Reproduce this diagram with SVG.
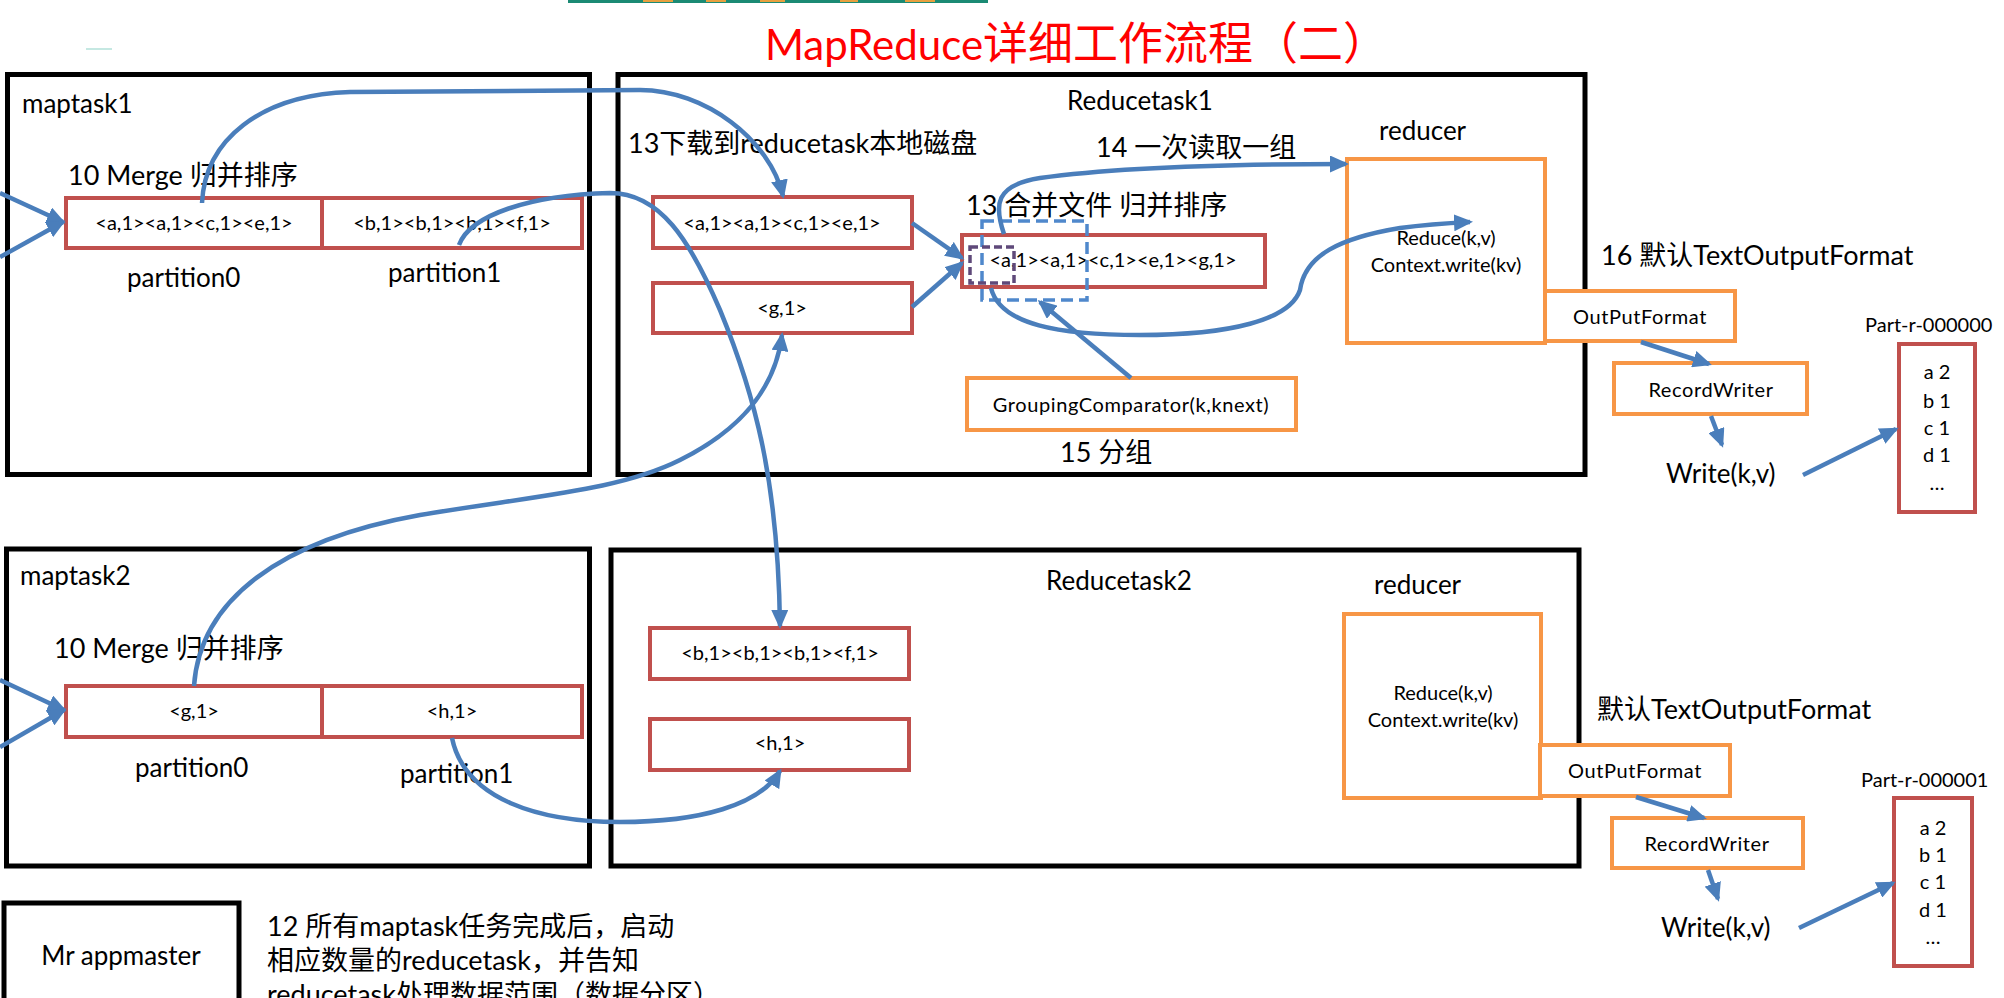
<svg xmlns="http://www.w3.org/2000/svg" width="2004" height="998" viewBox="0 0 2004 998">
<style>
.blk{fill:none;stroke:#000;stroke-width:5}
.red{fill:#fff;stroke:#C0504D;stroke-width:4}
.org{fill:#fff;stroke:#F79646;stroke-width:4}
.t{font-family:Lato,"Noto Sans CJK SC",sans-serif;fill:#000}
.l26{font-size:26px}
.l27{font-size:27px}
.s20{font-size:20px}
.sp{letter-spacing:0.6px}
.mid{text-anchor:middle}
.title{font-family:Lato,"Noto Sans CJK SC",sans-serif;font-size:42px;fill:#FF0000}
.conn{fill:none;stroke:#4A7EBB;stroke-width:4.5;marker-end:url(#ah)}
</style>
<defs>
<marker id="ah" markerUnits="userSpaceOnUse" markerWidth="19" markerHeight="17" viewBox="0 0 19 17" refX="16" refY="8.5" orient="auto">
<path d="M0,0 L19,8.5 L0,17 z" fill="#4A7EBB"/>
</marker>
</defs>
<rect x="0" y="0" width="2004" height="998" fill="#fff"/>
<g id="top-strip">
<rect x="568" y="0" width="420" height="3" fill="#1B8A74"/>
<rect x="643" y="0" width="30" height="2" fill="#E8A040"/>
<rect x="706" y="0" width="20" height="2" fill="#E8A040"/>
<rect x="760" y="0" width="25" height="2" fill="#E8A040"/>
<rect x="840" y="0" width="18" height="2" fill="#E8A040"/>
<rect x="905" y="0" width="30" height="2" fill="#E8A040"/>
<line x1="86" y1="49" x2="112" y2="49" stroke="#9ED8CE" stroke-width="1.2"/>
</g>
<g id="title"><text x="765" y="60" class="title">MapReduce<tspan font-size="45px">详细工作流程（二）</tspan></text></g>

<g id="maptask1">
<rect x="7.5" y="74.5" width="582" height="400" class="blk"/>
<text x="22" y="113" class="t l26">maptask1</text>
<text x="68" y="185" class="t l27">10 Merge 归并排序</text>
<text x="127" y="287" class="t l26">partition0</text>
<text x="388" y="282" class="t l26">partition1</text>
</g>
<g id="m1-partition0"><rect x="66" y="198" width="256" height="50" class="red"/><text x="194" y="230" class="t s20 mid">&lt;a,1&gt;&lt;a,1&gt;&lt;c,1&gt;&lt;e,1&gt;</text></g>
<g id="m1-partition1"><rect x="322" y="198" width="260" height="50" class="red"/><text x="452" y="230" class="t s20 mid">&lt;b,1&gt;&lt;b,1&gt;&lt;b,1&gt;&lt;f,1&gt;</text></g>

<g id="maptask2">
<rect x="6.5" y="549" width="583" height="317" class="blk"/>
<text x="20" y="585" class="t l26">maptask2</text>
<text x="54" y="658" class="t l27">10 Merge 归并排序</text>
<text x="135" y="777" class="t l26">partition0</text>
<text x="400" y="783" class="t l26">partition1</text>
</g>
<g id="m2-partition0"><rect x="66" y="686" width="256" height="51" class="red"/><text x="194" y="718" class="t s20 mid">&lt;g,1&gt;</text></g>
<g id="m2-partition1"><rect x="322" y="686" width="260" height="51" class="red"/><text x="452" y="718" class="t s20 mid">&lt;h,1&gt;</text></g>

<g id="reducetask1">
<rect x="618" y="74.5" width="967" height="400" class="blk"/>
<text x="1067" y="110" class="t l26">Reducetask1</text>
<text x="628" y="153" class="t l27">13下载到reducetask本地磁盘</text>
<text x="966" y="215" class="t l27">13 合并文件 归并排序</text>
<text x="1096" y="157" class="t l27">14 一次读取一组</text>
<text x="1060" y="462" class="t l27">15 分组</text>
<text x="1379" y="140" class="t l26">reducer</text>
</g>
<g id="r1-file1"><rect x="653" y="197" width="259" height="51" class="red"/><text x="782" y="230" class="t s20 mid">&lt;a,1&gt;&lt;a,1&gt;&lt;c,1&gt;&lt;e,1&gt;</text></g>
<g id="r1-file2"><rect x="653" y="283" width="259" height="50" class="red"/><text x="782" y="315" class="t s20 mid">&lt;g,1&gt;</text></g>
<g id="r1-merged"><rect x="962" y="235" width="303" height="52" class="red"/><text x="1113" y="267" class="t s20 mid">&lt;a,1&gt;&lt;a,1&gt;&lt;c,1&gt;&lt;e,1&gt;&lt;g,1&gt;</text></g>
<g id="r1-group"><rect x="982" y="221" width="105" height="79" fill="none" stroke="#4F88CC" stroke-width="3.5" stroke-dasharray="12 6"/></g>
<g id="r1-key"><rect x="970" y="247" width="44" height="36" fill="none" stroke="#5F497A" stroke-width="3.5" stroke-dasharray="8 4"/></g>
<g id="r1-grouping"><rect x="967" y="378" width="329" height="52" class="org"/><text x="1131" y="412" class="t s20 sp mid">GroupingComparator(k,knext)</text></g>
<g id="r1-reducer"><rect x="1347" y="159" width="198" height="184" class="org"/><text x="1446" y="245" class="t s20 mid">Reduce(k,v)</text><text x="1446" y="272" class="t s20 mid">Context.write(kv)</text></g>
<g id="r1-outputformat"><rect x="1545" y="291" width="190" height="50" class="org"/><text x="1640" y="324" class="t s20 sp mid">OutPutFormat</text></g>
<g id="r1-label16"><text x="1601" y="265" class="t l27">16 默认TextOutputFormat</text></g>
<g id="r1-recordwriter"><rect x="1614" y="363" width="193" height="51" class="org"/><text x="1711" y="397" class="t s20 sp mid">RecordWriter</text></g>
<g id="r1-write"><text x="1666" y="483" class="t l26">Write(k,v)</text></g>
<g id="part0">
<text x="1865" y="332" class="t s20">Part-r-000000</text>
<rect x="1899" y="344" width="76" height="168" fill="#fff" stroke="#C0504D" stroke-width="4"/>
<text x="1937" y="379" class="t s20 mid">a 2</text>
<text x="1937" y="408" class="t s20 mid">b 1</text>
<text x="1937" y="435" class="t s20 mid">c 1</text>
<text x="1937" y="462" class="t s20 mid">d 1</text>
<text x="1937" y="490" class="t s20 mid">…</text>
</g>

<g id="reducetask2">
<rect x="611" y="550" width="968" height="316" class="blk"/>
<text x="1046" y="590" class="t l26">Reducetask2</text>
<text x="1374" y="594" class="t l26">reducer</text>
</g>
<g id="r2-file1"><rect x="650" y="628" width="259" height="51" class="red"/><text x="780" y="660" class="t s20 mid">&lt;b,1&gt;&lt;b,1&gt;&lt;b,1&gt;&lt;f,1&gt;</text></g>
<g id="r2-file2"><rect x="650" y="719" width="259" height="51" class="red"/><text x="780" y="750" class="t s20 mid">&lt;h,1&gt;</text></g>
<g id="r2-reducer"><rect x="1344" y="614" width="197" height="184" class="org"/><text x="1443" y="700" class="t s20 mid">Reduce(k,v)</text><text x="1443" y="727" class="t s20 mid">Context.write(kv)</text></g>
<g id="r2-label"><text x="1597" y="719" class="t l27">默认TextOutputFormat</text></g>
<g id="r2-outputformat"><rect x="1540" y="745" width="190" height="51" class="org"/><text x="1635" y="778" class="t s20 sp mid">OutPutFormat</text></g>
<g id="r2-recordwriter"><rect x="1612" y="818" width="191" height="50" class="org"/><text x="1707" y="851" class="t s20 sp mid">RecordWriter</text></g>
<g id="r2-write"><text x="1661" y="937" class="t l26">Write(k,v)</text></g>
<g id="part1">
<text x="1861" y="787" class="t s20">Part-r-000001</text>
<rect x="1894" y="798" width="78" height="168" fill="#fff" stroke="#C0504D" stroke-width="4"/>
<text x="1933" y="835" class="t s20 mid">a 2</text>
<text x="1933" y="862" class="t s20 mid">b 1</text>
<text x="1933" y="889" class="t s20 mid">c 1</text>
<text x="1933" y="917" class="t s20 mid">d 1</text>
<text x="1933" y="944" class="t s20 mid">…</text>
</g>

<g id="appmaster">
<rect x="4" y="903" width="235" height="130" class="blk"/>
<text x="121" y="965" class="t l26 mid">Mr appmaster</text>
</g>
<g id="note12">
<text x="267" y="936" class="t l27">12 所有maptask任务完成后，启动</text>
<text x="267" y="970" class="t l27">相应数量的reducetask，并告知</text>
<text x="267" y="1004" class="t l27">reducetask处理数据范围（数据分区）</text>
</g>

<g id="connectors">
<path class="conn" d="M0,193 L63,222"/>
<path class="conn" d="M0,257 L63,222"/>
<path class="conn" d="M0,680 L64,710"/>
<path class="conn" d="M0,747 L64,710"/>
<path class="conn" d="M202,203 C205,140 260,95 350,92 L640,90 C705,90 770,140 783,196"/>
<path class="conn" d="M459,245 C470,215 530,195 610,193 C660,193 690,240 720,310 C755,395 778,480 780,626"/>
<path class="conn" d="M194,686 C200,600 280,540 420,515 C540,495 620,490 680,460 C740,430 775,390 782,335"/>
<path class="conn" d="M452,738 C465,800 540,822 620,822 C700,822 760,805 780,771"/>
<path class="conn" d="M912,223 L962,258"/>
<path class="conn" d="M912,307 L962,263"/>
<path class="conn" d="M1131,378 L1040,302"/>
<path class="conn" d="M1004,234 C994,205 995,185 1040,178 C1120,167 1230,164 1346,164"/>
<path class="conn" d="M991,288 C1000,325 1060,335 1140,335 C1230,335 1290,320 1300,290 C1305,255 1340,238 1400,228 C1430,224 1450,223 1470,222"/>
<path class="conn" d="M1641,342 L1709,364"/>
<path class="conn" d="M1711,416 L1722,445"/>
<path class="conn" d="M1803,475 L1896,429"/>
<path class="conn" d="M1636,797 L1704,818"/>
<path class="conn" d="M1708,870 L1718,899"/>
<path class="conn" d="M1799,928 L1893,883"/>
</g>
</svg>
